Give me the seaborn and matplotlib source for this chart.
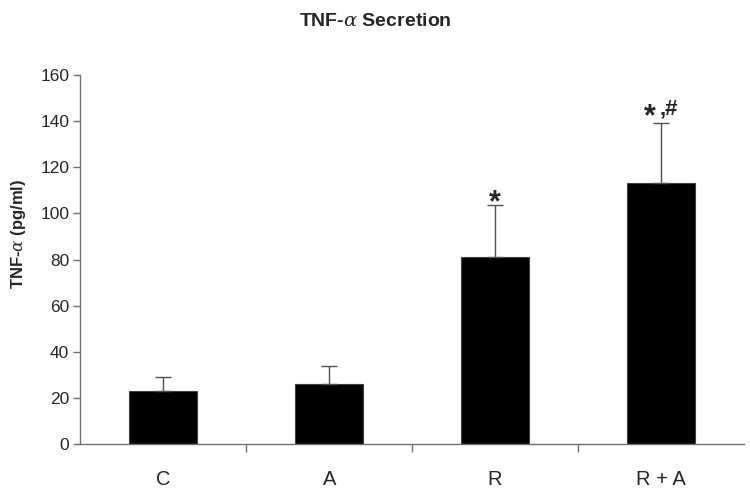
import matplotlib
matplotlib.use('Agg')
import matplotlib.pyplot as plt
import seaborn as sns
import numpy as np

# Data
groups = ['C', 'A', 'R', 'R + A']
tnf_mean = [23, 26, 81, 113]
tnf_err = [6.2, 8, 22.5, 26]
vs_control = [False, False, True, True]   # "*"
vs_r = [False, False, False, True]        # "#"

sns.set_style('white')
plt.rcParams['font.family'] = ['Liberation Sans', 'DejaVu Sans']
plt.rcParams['mathtext.fontset'] = 'custom'
plt.rcParams['mathtext.it'] = 'DejaVu Serif:italic'

fig = plt.figure(figsize=(7.5, 5), dpi=100)
ax = fig.add_axes([0.107, 0.112, 0.885, 0.738])

sns.barplot(x=groups, y=tnf_mean, color='black', width=0.41,
            edgecolor='#404040', linewidth=0.8, ax=ax)
xpos = np.arange(len(groups))
ax.errorbar(xpos, tnf_mean, yerr=[np.zeros(len(groups)), tnf_err],
            fmt='none', ecolor='#505050', elinewidth=1, capsize=6, capthick=1)

for x, m, e, s, h in zip(xpos, tnf_mean, tnf_err, vs_control, vs_r):
    top = m + e
    if s and h:
        ax.annotate('*', (x, top), xytext=(-8, -6), textcoords='offset points',
                    ha='center', va='bottom', fontsize=22, fontweight='bold')
        ax.annotate(',#', (x, top), xytext=(-1, 3), textcoords='offset points',
                    ha='left', va='bottom', fontsize=16, fontweight='bold')
    elif s:
        ax.annotate('*', (x, top), xytext=(0, -9), textcoords='offset points',
                    ha='center', va='bottom', fontsize=22, fontweight='bold')

ax.set_xlim(-0.5, len(groups) - 0.5)
ax.set_ylim(0, 160)
ax.set_yticks(range(0, 161, 20))
ax.tick_params(axis='y', direction='out', length=5, width=1, color='#707070',
               labelsize=12.5, pad=3, left=True)
ax.set_xticks(xpos)
ax.set_xticklabels(groups, fontsize=14.5)
ax.tick_params(axis='x', length=0, pad=19)
ax.set_xticks(np.arange(0.5, len(groups) - 1, 1), minor=True)
ax.tick_params(axis='x', which='minor', direction='out', length=6, width=1,
               color='#707070', bottom=True)

for side in ['top', 'right']:
    ax.spines[side].set_visible(False)
for side in ['left', 'bottom']:
    ax.spines[side].set_color('#707070')
    ax.spines[side].set_linewidth(1)

ax.set_ylabel(r'TNF-$\it{\alpha}$ (pg/ml)', fontsize=12, fontweight='bold')
ax.yaxis.set_label_coords(-0.078, 0.57)
fig.suptitle(r'TNF-$\it{\alpha}$ Secretion', fontsize=14, fontweight='bold', y=0.975)

fig.savefig('out.png', dpi=100)
